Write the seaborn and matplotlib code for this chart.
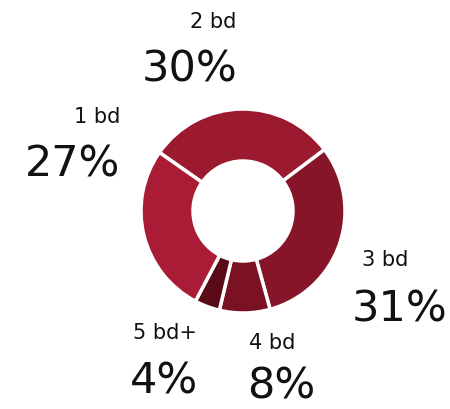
import matplotlib
matplotlib.use("Agg")
import matplotlib.pyplot as plt
import seaborn as sns

# bedroom mix, clockwise from the top
labels = ["2 bd", "3 bd", "4 bd", "5 bd+", "1 bd"]
shares = [30, 31, 8, 4, 27]
colors = ["#9b1a30", "#86152a", "#7a1223", "#5a0b17", "#aa1c36"]

# label anchor positions (pixels from the top-left of the 450x410 canvas)
lab_x = [213, 385, 272, 165, 97]
lab_y = [22, 260, 343, 333, 117]
pct_x = [190, 400, 281, 164, 73]
pct_y = [70, 310, 387, 382, 165]

H = 410

sns.set_theme(style="white")
plt.rcParams["font.family"] = ["DejaVu Sans"]

fig = plt.figure(figsize=(4.5, 4.1), dpi=100)
ax = fig.add_axes([0, 0, 1, 1])

ax.pie(shares, colors=colors, startangle=145, counterclock=False,
       center=(243, H - 212), radius=102,
       wedgeprops=dict(width=52, edgecolor="white", linewidth=2.5))
ax.set_xlim(0, 450)
ax.set_ylim(0, H)
ax.set_aspect("equal")
ax.axis("off")

for i, name in enumerate(labels):
    ax.text(lab_x[i], H - lab_y[i], name, ha="center", va="center",
            fontsize=15, color="#111111")
    ax.text(pct_x[i], H - pct_y[i], f"{shares[i]}%", ha="center", va="center",
            fontsize=31, color="#111111")

fig.savefig("out.png", dpi=100, facecolor="white")
